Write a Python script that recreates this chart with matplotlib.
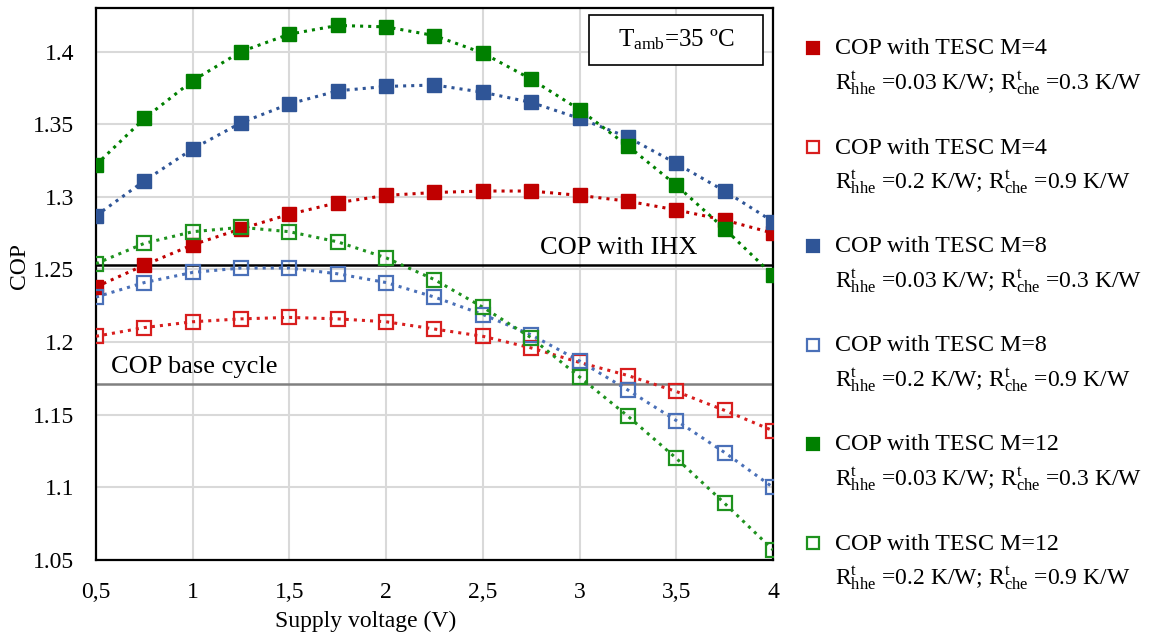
import matplotlib
matplotlib.use("Agg")
import matplotlib.pyplot as plt
from matplotlib.lines import Line2D
from matplotlib.patches import Rectangle
from matplotlib.ticker import FuncFormatter, MultipleLocator

plt.rcParams["font.family"] = ["Liberation Serif", "DejaVu Serif"]
plt.rcParams["mathtext.fontset"] = "custom"
plt.rcParams["mathtext.rm"] = "Liberation Serif"
plt.rcParams["mathtext.it"] = "Liberation Serif:italic"

# ── data ──
voltage = [0.5, 0.75, 1.0, 1.25, 1.5, 1.75, 2.0, 2.25, 2.5, 2.75, 3.0, 3.25, 3.5, 3.75, 4.0]

m4_low = [1.238, 1.253, 1.267, 1.278, 1.288, 1.296, 1.301, 1.303, 1.304, 1.304,
          1.301, 1.297, 1.291, 1.284, 1.275]
m4_high = [1.204, 1.210, 1.214, 1.216, 1.217, 1.216, 1.214, 1.209, 1.204, 1.196,
           1.186, 1.177, 1.166, 1.153, 1.139]
m8_low = [1.287, 1.311, 1.333, 1.351, 1.364, 1.373, 1.376, 1.377, 1.372, 1.365,
          1.354, 1.341, 1.323, 1.304, 1.283]
m8_high = [1.231, 1.241, 1.248, 1.251, 1.251, 1.247, 1.241, 1.231, 1.219, 1.205,
           1.187, 1.167, 1.146, 1.124, 1.100]
m12_low = [1.322, 1.354, 1.380, 1.400, 1.412, 1.418, 1.417, 1.411, 1.399, 1.381,
           1.360, 1.335, 1.308, 1.278, 1.246]
m12_high = [1.254, 1.268, 1.276, 1.279, 1.276, 1.269, 1.258, 1.243, 1.224, 1.203,
            1.176, 1.149, 1.120, 1.089, 1.057]

cop_ihx = 1.253
cop_base = 1.171

line1 = "COP with TESC M={}"
line2_low = r"R$^{\mathrm{t}}_{\mathrm{hhe}}$ =0.03 K/W; R$^{\mathrm{t}}_{\mathrm{che}}$ =0.3 K/W"
line2_high = r"R$^{\mathrm{t}}_{\mathrm{hhe}}$ =0.2 K/W; R$^{\mathrm{t}}_{\mathrm{che}}$ =0.9 K/W"

series = [
    (m4_low, 4, "#C00000", True, line2_low),
    (m4_high, 4, "#D81E1E", False, line2_high),
    (m8_low, 8, "#2F5597", True, line2_low),
    (m8_high, 8, "#4A70B8", False, line2_high),
    (m12_low, 12, "#008000", True, line2_low),
    (m12_high, 12, "#1E921E", False, line2_high),
]

W, H = 1156, 643
fig = plt.figure(figsize=(W / 100, H / 100), dpi=100)
ax = fig.add_axes([96 / W, 1 - 560 / H, (773 - 96) / W, (560 - 8) / H])

ax.set_xlim(0.5, 4)
ax.set_ylim(1.05, 1.43)
ax.xaxis.set_major_locator(MultipleLocator(0.5))
ax.yaxis.set_major_locator(MultipleLocator(0.05))
ax.xaxis.set_major_formatter(FuncFormatter(lambda v, p: f"{v:g}".replace(".", ",")))
ax.yaxis.set_major_formatter(FuncFormatter(lambda v, p: f"{v:.2f}".rstrip("0") if v < 1.425 else ""))
ax.grid(True, color="#D9D9D9", linewidth=1.5)
ax.set_axisbelow(True)
ax.tick_params(length=0, labelsize=17, pad=15.5)
for s in ax.spines.values():
    s.set_linewidth(1.6)
    s.set_color("black")

# reference cycles
ax.axhline(cop_ihx, color="black", linewidth=1.8, zorder=2)
ax.axhline(cop_base, color="#808080", linewidth=1.8, zorder=2)
ax.text(3.2, cop_ihx + 0.004, "COP with IHX", fontsize=19, ha="center", va="bottom")
ax.text(0.58, cop_base + 0.004, "COP base cycle", fontsize=19, ha="left", va="bottom")

for vals, m, color, filled, _ in series:
    ax.plot(voltage, vals, linestyle=":", linewidth=2.2, color=color, zorder=3)
    if filled:
        ax.plot(voltage, vals, linestyle="none", marker="s", markersize=10,
                markerfacecolor=color, markeredgecolor=color, zorder=4)
    else:
        ax.plot(voltage, vals, linestyle="none", marker="s", markersize=9.5,
                markerfacecolor="none", markeredgecolor=color, markeredgewidth=1.6, zorder=4)

fig.text(366 / W, 1 - 621 / H, "Supply voltage (V)", fontsize=17, ha="center", va="center")
fig.text(20 / W, 1 - 266 / H, "COP", fontsize=17, ha="center", va="center", rotation=90)

# T_amb box
ax.add_patch(Rectangle((0.728, 0.897), 0.257, 0.09, transform=ax.transAxes,
                       facecolor="white", edgecolor="black", linewidth=1.2, zorder=5))
ax.text(0.857, 0.942, r"T$_{\mathrm{amb}}$=35 ºC", transform=ax.transAxes, fontsize=18,
        ha="center", va="center", zorder=6)

# legend on the right
for i, (vals, m, color, filled, l2) in enumerate(series):
    y1 = 49 + i * 99
    fig.add_artist(Line2D([813 / W], [1 - (y1 - 1) / H], transform=fig.transFigure,
                          marker="s", markersize=9 if filled else 8.5, linestyle="none",
                          markerfacecolor=color if filled else "white",
                          markeredgecolor=color, markeredgewidth=1.6))
    fig.text(835 / W, 1 - y1 / H, line1.format(m), fontsize=17.3, va="center", ha="left")
    fig.text(835 / W, 1 - (y1 + 34) / H, l2, fontsize=17, va="center", ha="left")

fig.savefig("out.png", dpi=100, facecolor="white")
